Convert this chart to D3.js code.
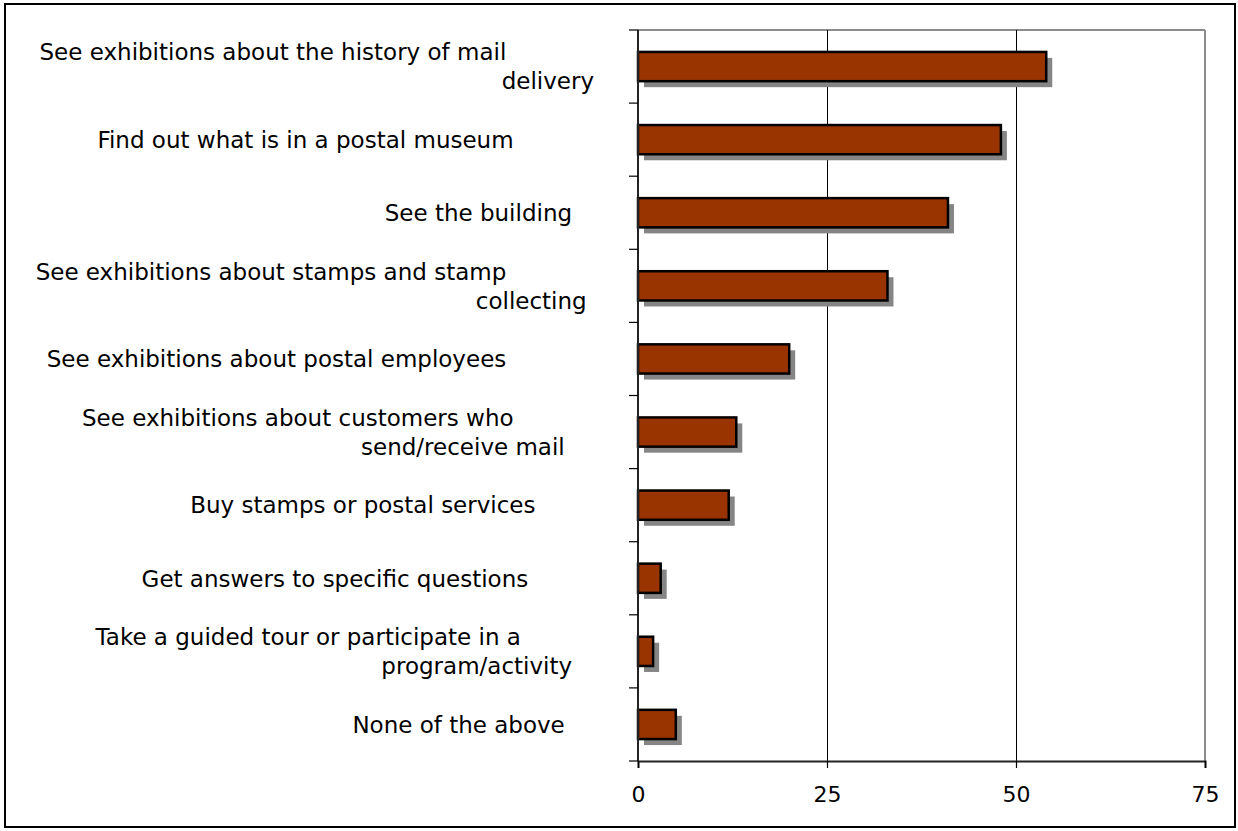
<!DOCTYPE html>
<html>
<head>
<meta charset="utf-8">
<script src="https://cdn.jsdelivr.net/npm/d3@7/dist/d3.min.js"></script>
<style>
  html, body { margin: 0; padding: 0; background: #fff; }
  svg { display: block; }
  text { font-family: "DejaVu Sans", Verdana, sans-serif; fill: #000; }
  .cat-label { white-space: pre; }
</style>
</head>
<body>
<svg id="chart" width="1238" height="831"></svg>
<script>
// Reasons for visiting (percent of respondents)
const categories = [
  "See exhibitions about the history of mail delivery",
  "Find out what is in a postal museum",
  "See the building",
  "See exhibitions about stamps and stamp collecting",
  "See exhibitions about postal employees",
  "See exhibitions about customers who send/receive mail",
  "Buy stamps or postal services",
  "Get answers to specific questions",
  "Take a guided tour or participate in a program/activity",
  "None of the above"
];

// Wrapped label lines, as laid out in the original cells (trailing spaces kept)
const labelLines = [
  ["See exhibitions about the history of mail            ", "delivery"],
  ["Find out what is in a postal museum           "],
  ["See the building   "],
  ["See exhibitions about stamps and stamp            ", "collecting "],
  ["See exhibitions about postal employees            "],
  ["See exhibitions about customers who           ", "send/receive mail    "],
  ["Buy stamps or postal services        "],
  ["Get answers to specific questions         "],
  ["Take a guided tour or participate in a          ", "program/activity   "],
  ["None of the above    "]
];

const values = [54, 48, 41, 33, 20, 13, 12, 3, 2, 5];

const xTicks = [0, 25, 50, 75];

const plot = { left: 638, right: 1205, top: 30, bottom: 761 };

const svg = d3.select("#chart");

// outer frame
svg.append("rect")
  .attr("x", 5).attr("y", 4)
  .attr("width", 1230).attr("height", 823)
  .attr("fill", "#fff")
  .attr("stroke", "#000")
  .attr("stroke-width", 2);

const x = d3.scaleLinear().domain([0, 75]).range([plot.left, plot.right]);
const y = d3.scaleBand()
  .domain(categories)
  .range([plot.top, plot.bottom])
  .paddingInner(0.6)
  .paddingOuter(0.3);

// plot area border (top and right, grey)
svg.append("line")
  .attr("x1", plot.left).attr("x2", plot.right)
  .attr("y1", plot.top).attr("y2", plot.top)
  .attr("stroke", "#8c8c8c").attr("stroke-width", 2);
svg.append("line")
  .attr("x1", plot.right).attr("x2", plot.right)
  .attr("y1", plot.top).attr("y2", plot.bottom)
  .attr("stroke", "#8c8c8c").attr("stroke-width", 2);

// vertical grid lines
svg.append("g")
  .selectAll("line")
  .data(xTicks.filter(t => t > 0 && t < 75))
  .join("line")
  .attr("x1", d => x(d) + 0.5).attr("x2", d => x(d) + 0.5)
  .attr("y1", plot.top).attr("y2", plot.bottom)
  .attr("stroke", "#000").attr("stroke-width", 1)
  .attr("shape-rendering", "crispEdges");

// bottom axis
const xAxis = d3.axisBottom(x)
  .tickValues(xTicks)
  .tickSize(7)
  .tickPadding(18)
  .tickFormat(d3.format("d"));

const gx = svg.append("g")
  .attr("transform", `translate(0,${plot.bottom})`)
  .call(xAxis);
gx.select(".domain").attr("stroke", "#222").attr("stroke-width", 2);
gx.selectAll(".tick line").attr("stroke", "#000").attr("stroke-width", 1.2);
gx.selectAll(".tick text")
  .attr("font-size", 22)
  .style("font-family", "'DejaVu Sans', Verdana, sans-serif")
  .attr("fill", "#000");

// bar shadows
const shadowOffset = 6;
svg.append("g")
  .selectAll("rect")
  .data(values)
  .join("rect")
  .attr("x", x(0) + shadowOffset)
  .attr("y", (d, i) => y(categories[i]) + shadowOffset)
  .attr("width", d => x(d) - x(0))
  .attr("height", y.bandwidth())
  .attr("fill", "#858585");

// bars
svg.append("g")
  .selectAll("rect")
  .data(values)
  .join("rect")
  .attr("x", x(0))
  .attr("y", (d, i) => y(categories[i]))
  .attr("width", d => x(d) - x(0))
  .attr("height", y.bandwidth())
  .attr("fill", "#993300")
  .attr("stroke", "#000")
  .attr("stroke-width", 2.5);

// left axis line and category dividers
svg.append("line")
  .attr("x1", plot.left).attr("x2", plot.left)
  .attr("y1", plot.top).attr("y2", plot.bottom)
  .attr("stroke", "#222").attr("stroke-width", 2);

const dividers = d3.range(categories.length + 1).map(i => plot.top + i * y.step());
svg.append("g")
  .selectAll("line")
  .data(dividers)
  .join("line")
  .attr("x1", plot.left - 9).attr("x2", plot.left)
  .attr("y1", d => d).attr("y2", d => d)
  .attr("stroke", "#000").attr("stroke-width", 1.2);

// category labels
const lineHeight = 29;
const labelRight = 594;
const labels = svg.append("g");
categories.forEach((c, i) => {
  const lines = labelLines[i];
  const cy = y(c) + y.bandwidth() / 2;
  const t = labels.append("text")
    .attr("class", "cat-label")
    .attr("xml:space", "preserve")
    .attr("text-anchor", "end")
    .attr("font-size", 23);
  lines.forEach((ln, j) => {
    t.append("tspan")
      .attr("x", labelRight)
      .attr("y", cy + (j - (lines.length - 1) / 2) * lineHeight)
      .attr("dy", "0.36em")
      .text(ln);
  });
});
</script>
</body>
</html>
